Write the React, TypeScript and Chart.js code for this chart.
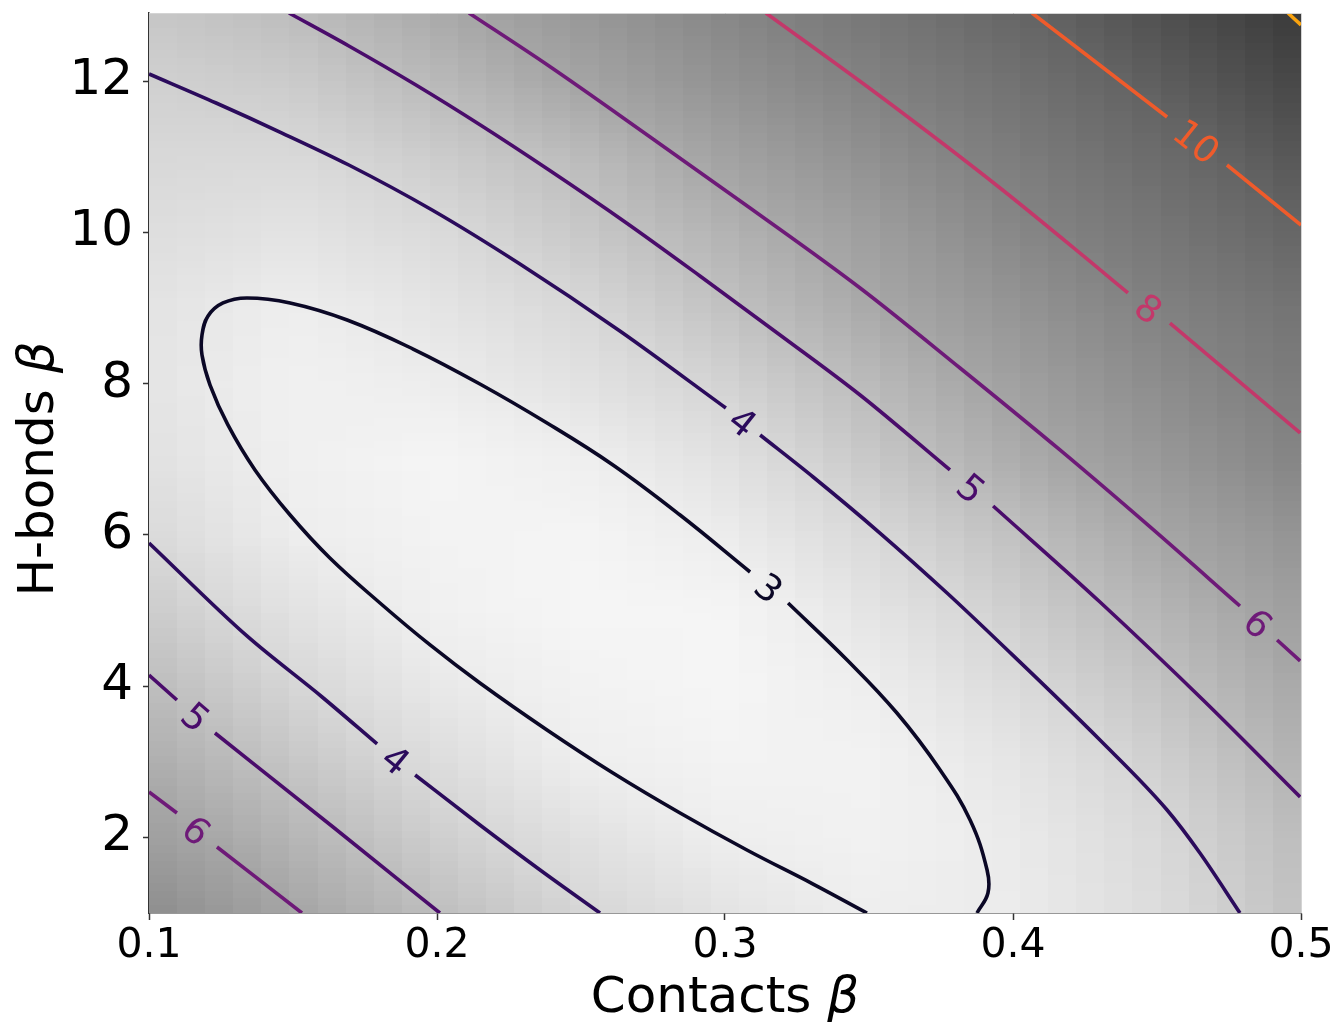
import React, { useEffect, useRef } from "react";
import { Chart, registerables } from "chart.js";

Chart.register(...registerables);

// ---------- axes ----------
const xTickValues = [0.1, 0.2, 0.3, 0.4, 0.5];
const xTickLabels = ["0.1", "0.2", "0.3", "0.4", "0.5"];
const yTickValues = [2, 4, 6, 8, 10, 12];
const yTickLabels = ["2", "4", "6", "8", "10", "12"];
const xTitleText = "Contacts ";
const yTitleText = "H-bonds ";
const titleSymbol = "β";

// ---------- background field ----------
const fieldX = [0.1, 0.15, 0.2, 0.25, 0.3, 0.35, 0.4, 0.45, 0.5];
const fieldY = [1, 2, 3, 4, 5, 6, 7, 8, 9, 10, 11, 12, 13];
const fieldValues: number[][] = [
  [7.4, 6.05, 5.0, 4.1, 3.5, 3.0, 3.1, 3.8, 4.9],
  [6.4, 5.37, 4.38, 3.6, 3.0, 2.8, 3.17, 3.95, 5.1],
  [5.7, 4.7, 3.8, 3.0, 2.7, 2.75, 3.4, 4.3, 5.5],
  [5.07, 4.1, 3.25, 2.75, 2.55, 3.0, 3.87, 4.8, 5.95],
  [4.5, 3.55, 2.85, 2.55, 2.6, 3.45, 4.35, 5.35, 6.4],
  [3.95, 3.05, 2.7, 2.6, 3.1, 3.95, 4.9, 6.0, 7.05],
  [3.6, 2.9, 2.6, 2.95, 3.6, 4.6, 5.7, 6.75, 7.9],
  [3.45, 2.85, 3.05, 3.55, 4.2, 5.15, 6.3, 7.4, 8.45],
  [3.5, 3.0, 3.45, 4.0, 4.85, 5.85, 6.95, 8.05, 9.0],
  [3.75, 3.5, 3.9, 4.6, 5.45, 6.4, 7.7, 8.75, 9.95],
  [4.0, 3.95, 4.45, 5.1, 6.2, 7.2, 8.35, 9.5, 10.7],
  [4.3, 4.5, 5.2, 6.1, 7.1, 8.05, 9.1, 10.3, 11.5],
  [4.7, 5.1, 5.9, 6.85, 7.8, 8.8, 9.95, 11.05, 12.2],
];
// value -> grey level
const greyStops: [number, number][] = [
  [2.5, 246], [3, 238], [4, 216], [5, 190], [6, 166], [8, 130], [10, 100], [12, 60], [13, 40],
];
const cellsX = 41;
const cellsY = 120;

// ---------- contour lines (null marks the gap for the inline label) ----------
type Pt = [number, number] | null;
const levels = [3, 4, 5, 6, 8, 10, 12];
const levelColors = ["#0b0826", "#2b0b5c", "#4a0c6b", "#6e1a78", "#c3386a", "#ef5b2b", "#f9a30f"];

const level3Path: Pt[] = [
  [0.3493, 1.0], [0.3306, 1.383], [0.3076, 1.833], [0.2844, 2.322], [0.2611, 2.851],
  [0.2382, 3.42], [0.2149, 4.041], [0.1976, 4.544], [0.1802, 5.099], [0.1628, 5.694],
  [0.149, 6.262], [0.1368, 6.858], [0.1274, 7.453], [0.1212, 7.981], [0.1184, 8.378],
  [0.1184, 8.643], [0.1205, 8.894], [0.1257, 9.066], [0.134, 9.132], [0.149, 9.066],
  [0.1688, 8.841], [0.1917, 8.457], [0.2149, 7.995], [0.2382, 7.479], [0.2611, 6.924],
  [0.2844, 6.262], [0.3087, 5.509],
  null,
  [0.3219, 5.099], [0.3424, 4.345], [0.3597, 3.644], [0.3747, 2.891], [0.3851, 2.23],
  [0.391, 1.569], [0.3913, 1.264], [0.3875, 1.0],
];
const level4UpperPath: Pt[] = [
  [0.1, 12.094], [0.1233, 11.71], [0.1462, 11.313], [0.1694, 10.89], [0.1983, 10.295],
  [0.2288, 9.581], [0.2635, 8.695], [0.3003, 7.677], null,
  [0.3122, 7.32], [0.3306, 6.765], [0.3538, 6.024], [0.3771, 5.231], [0.3955, 4.57],
  [0.4302, 3.287], [0.4535, 2.362], [0.4649, 1.793], [0.4788, 1.0],
];
const level4LowerPath: Pt[] = [
  [0.1, 5.892], [0.134, 4.663], [0.1601, 3.856], [0.1792, 3.235], null,
  [0.1924, 2.825], [0.2149, 2.164], [0.2358, 1.569], [0.2566, 1.0],
];
const level5UpperPath: Pt[] = [
  [0.1486, 12.9], [0.1694, 12.464], [0.1927, 11.948], [0.2156, 11.406], [0.2389, 10.824],
  [0.2653, 10.137], [0.2913, 9.423], [0.3191, 8.643], [0.3469, 7.849], [0.3781, 6.858],
  null,
  [0.3931, 6.381], [0.4302, 5.112], [0.466, 3.816], [0.4997, 2.534],
];
const level5LowerPath: Pt[] = [
  [0.1, 4.147], [0.1097, 3.816], null, [0.1229, 3.38], [0.1639, 2.137], [0.201, 1.0],
];
const level6UpperPath: Pt[] = [
  [0.2111, 12.9], [0.2389, 12.199], [0.274, 11.261], [0.3087, 10.322], [0.3469, 9.264],
  [0.3816, 8.206], [0.4163, 7.122], [0.4476, 6.104], [0.4788, 5.059], null,
  [0.4917, 4.61], [0.4997, 4.332],
];
const level6LowerPath: Pt[] = [
  [0.1, 2.6], [0.1097, 2.322], null, [0.1236, 1.873], [0.1531, 1.0],
];
const level8Path: Pt[] = [
  [0.3142, 12.9], [0.3538, 11.802], [0.3955, 10.586], [0.4257, 9.648], [0.4399, 9.198],
  null, [0.4545, 8.801], [0.4997, 7.347],
];
const level10Path: Pt[] = [
  [0.4066, 12.9], [0.4535, 11.525], null, [0.4743, 10.89], [0.5, 10.097],
];
const level12Path: Pt[] = [
  [0.4955, 12.9], [0.5, 12.741],
];

const contours: { level: number; path: Pt[]; closedShape?: boolean }[] = [
  { level: 3, path: level3Path, closedShape: true },
  { level: 4, path: level4UpperPath },
  { level: 4, path: level4LowerPath },
  { level: 5, path: level5UpperPath },
  { level: 5, path: level5LowerPath },
  { level: 6, path: level6UpperPath },
  { level: 6, path: level6LowerPath },
  { level: 8, path: level8Path },
  { level: 10, path: level10Path },
  { level: 12, path: level12Path },
];

const FONT = '"DejaVu Sans", "Liberation Sans", sans-serif';

function colorOf(level: number) {
  return levelColors[levels.indexOf(level)];
}

function greyOf(v: number) {
  if (v <= greyStops[0][0]) return greyStops[0][1];
  for (let i = 0; i < greyStops.length - 1; i++) {
    const [a, ga] = greyStops[i];
    const [b, gb] = greyStops[i + 1];
    if (v <= b) return ga + ((v - a) / (b - a)) * (gb - ga);
  }
  return greyStops[greyStops.length - 1][1];
}

function sampleField(xv: number, yv: number) {
  const idxOf = (arr: number[], v: number) => {
    let i = 0;
    while (i < arr.length - 2 && v > arr[i + 1]) i++;
    return i;
  };
  const i = idxOf(fieldX, xv);
  const j = idxOf(fieldY, yv);
  const tx = Math.min(1, Math.max(0, (xv - fieldX[i]) / (fieldX[i + 1] - fieldX[i])));
  const ty = Math.min(1, Math.max(0, (yv - fieldY[j]) / (fieldY[j + 1] - fieldY[j])));
  const v00 = fieldValues[j][i];
  const v10 = fieldValues[j][i + 1];
  const v01 = fieldValues[j + 1][i];
  const v11 = fieldValues[j + 1][i + 1];
  return v00 * (1 - tx) * (1 - ty) + v10 * tx * (1 - ty) + v01 * (1 - tx) * ty + v11 * tx * ty;
}

const heatmapPlugin = {
  id: "heatmapBackground",
  beforeDatasetsDraw(chart: any) {
    const { ctx, chartArea: a, scales } = chart;
    const xs = scales.x;
    const ys = scales.y;
    const w = Math.round(a.right - a.left);
    const h = Math.round(a.bottom - a.top);
    const off = document.createElement("canvas");
    off.width = w;
    off.height = h;
    const octx = off.getContext("2d")!;
    const img = octx.createImageData(w, h);
    const xmin = xs.min, xmax = xs.max, ymin = ys.min, ymax = ys.max;
    const rowVal: number[] = [];
    for (let py = 0; py < h; py++) {
      const yv = ys.getValueForPixel(a.top + py + 0.5);
      const k = Math.min(cellsY - 1, Math.max(0, Math.floor(((yv - ymin) / (ymax - ymin)) * cellsY)));
      rowVal.push(ymin + ((k + 0.5) / cellsY) * (ymax - ymin));
    }
    const colVal: number[] = [];
    for (let px = 0; px < w; px++) {
      const xv = xs.getValueForPixel(a.left + px + 0.5);
      const k = Math.min(cellsX - 1, Math.max(0, Math.floor(((xv - xmin) / (xmax - xmin)) * cellsX)));
      colVal.push(xmin + ((k + 0.5) / cellsX) * (xmax - xmin));
    }
    const cache = new Map<string, number>();
    for (let py = 0; py < h; py++) {
      for (let px = 0; px < w; px++) {
        const key = rowVal[py] + "|" + colVal[px];
        let g = cache.get(key);
        if (g === undefined) {
          g = greyOf(sampleField(colVal[px], rowVal[py]));
          cache.set(key, g);
        }
        const o = (py * w + px) * 4;
        img.data[o] = g;
        img.data[o + 1] = g;
        img.data[o + 2] = g;
        img.data[o + 3] = 255;
      }
    }
    octx.putImageData(img, 0, 0);
    ctx.save();
    ctx.drawImage(off, a.left, a.top);
    ctx.restore();
  },
};

const labelsPlugin = {
  id: "contourLabels",
  afterDatasetsDraw(chart: any) {
    const { ctx, scales } = chart;
    const xs = scales.x;
    const ys = scales.y;
    const size = 37;
    contours.forEach((c) => {
      const idx = c.path.indexOf(null);
      if (idx < 1) return;
      const p0 = c.path[idx - 1]!;
      const p1 = c.path[idx + 1]!;
      const x0 = xs.getPixelForValue(p0[0]);
      const y0 = ys.getPixelForValue(p0[1]);
      const x1 = xs.getPixelForValue(p1[0]);
      const y1 = ys.getPixelForValue(p1[1]);
      let ang = Math.atan2(y1 - y0, x1 - x0);
      if (ang > Math.PI / 2) ang -= Math.PI;
      if (ang < -Math.PI / 2) ang += Math.PI;
      ctx.save();
      ctx.translate((x0 + x1) / 2, (y0 + y1) / 2);
      ctx.rotate(ang);
      ctx.fillStyle = colorOf(c.level);
      ctx.font = `${size}px ${FONT}`;
      ctx.textAlign = "center";
      ctx.textBaseline = "alphabetic";
      ctx.fillText(String(c.level), 0, size * 0.365);
      ctx.restore();
    });
  },
  afterDraw(chart: any) {
    const { ctx, chartArea: a } = chart;
    // faint top / right frame
    ctx.save();
    ctx.strokeStyle = "#d4d4d4";
    ctx.lineWidth = 1;
    ctx.beginPath();
    ctx.moveTo(a.left, a.top + 0.5);
    ctx.lineTo(a.right + 0.5, a.top + 0.5);
    ctx.lineTo(a.right + 0.5, a.bottom);
    ctx.stroke();
    ctx.restore();

    const tsize = 50;
    const drawTitle = (text: string) => {
      ctx.font = `${tsize}px ${FONT}`;
      const w1 = ctx.measureText(text).width;
      ctx.font = `italic ${tsize}px ${FONT}`;
      const w2 = ctx.measureText(titleSymbol).width;
      const start = -(w1 + w2) / 2;
      ctx.fillStyle = "#000";
      ctx.textAlign = "left";
      ctx.textBaseline = "alphabetic";
      ctx.font = `${tsize}px ${FONT}`;
      ctx.fillText(text, start, 0);
      ctx.font = `italic ${tsize}px ${FONT}`;
      ctx.fillText(titleSymbol, start + w1, 0);
    };
    ctx.save();
    ctx.translate((a.left + a.right) / 2, 1012);
    drawTitle(xTitleText);
    ctx.restore();
    ctx.save();
    ctx.translate(53, 469);
    ctx.rotate(-Math.PI / 2);
    drawTitle(yTitleText);
    ctx.restore();
  },
};

export default function App() {
  const ref = useRef<HTMLCanvasElement | null>(null);
  useEffect(() => {
    if (!ref.current) return;
    const datasets = contours.map((c) => {
      const data: any[] = [];
      c.path.forEach((p, i) => {
        if (p) data.push({ x: p[0], y: p[1] });
        else {
          const prev = c.path[i - 1]!;
          data.push({ x: prev[0], y: null });
        }
      });
      return {
        label: `level ${c.level}`,
        data,
        borderColor: colorOf(c.level),
        borderWidth: 3.6,
        pointRadius: 0,
        tension: c.closedShape ? 0.4 : 0,
        cubicInterpolationMode: c.closedShape ? "default" : "monotone",
        fill: false,
        spanGaps: false,
        clip: 0,
        borderCapStyle: "butt" as const,
        borderJoinStyle: "round" as const,
      };
    });
    const chart = new Chart(ref.current, {
      type: "line",
      data: { datasets },
      options: {
        animation: false,
        responsive: false,
        devicePixelRatio: 1,
        events: [],
        layout: { padding: { left: 0, top: 13, right: 36, bottom: 0 } },
        plugins: { legend: { display: false }, tooltip: { enabled: false } },
        scales: {
          x: {
            type: "linear",
            min: 0.1,
            max: 0.5,
            z: 1,
            afterBuildTicks: (s: any) => {
              s.ticks = xTickValues.map((v) => ({ value: v }));
            },
            afterFit: (s: any) => {
              s.height = 112;
              s.paddingLeft = 0;
              s.paddingRight = 0;
            },
            ticks: {
              callback: (_v: any, i: number) => xTickLabels[i],
              font: { family: FONT, size: 41 },
              color: "#000",
              padding: 2,
              maxRotation: 0,
              autoSkip: false,
            },
            grid: { drawOnChartArea: false, drawTicks: true, tickLength: 7, tickColor: "#333", tickWidth: 1.5 },
            border: { display: true, color: "#333", width: 1.5 },
          },
          y: {
            type: "linear",
            min: 1,
            max: 12.9,
            z: 1,
            afterBuildTicks: (s: any) => {
              s.ticks = yTickValues.map((v) => ({ value: v }));
            },
            afterFit: (s: any) => {
              s.width = 149;
              s.paddingTop = 0;
              s.paddingBottom = 0;
            },
            ticks: {
              callback: (_v: any, i: number) => yTickLabels[i],
              font: { family: FONT, size: 50 },
              color: "#000",
              padding: 10,
              autoSkip: false,
            },
            grid: { drawOnChartArea: false, drawTicks: true, tickLength: 6, tickColor: "#333", tickWidth: 1.5 },
            border: { display: true, color: "#333", width: 1.5 },
          },
        },
      },
      plugins: [heatmapPlugin, labelsPlugin],
    } as any);
    return () => chart.destroy();
  }, []);
  return (
    <div style={{ position: "absolute", left: 0, top: 0, width: 1337, height: 1025, background: "#fff" }}>
      <canvas ref={ref} width={1337} height={1025} style={{ display: "block" }} />
    </div>
  );
}
